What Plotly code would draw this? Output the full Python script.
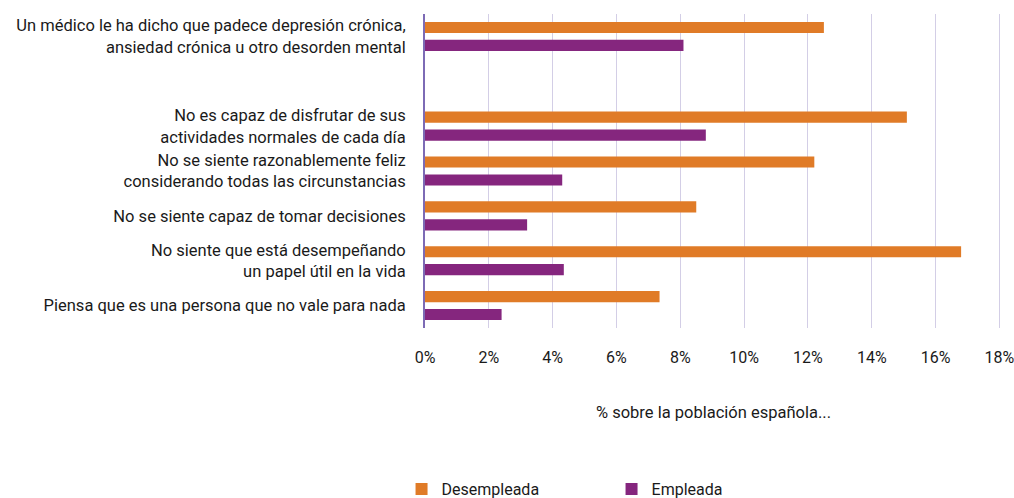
import plotly.graph_objects as go

categories = [
    "Un médico le ha dicho que padece depresión crónica,<br>ansiedad crónica u otro desorden mental",
    " ",
    "No es capaz de disfrutar de sus<br>actividades normales de cada día",
    "No se siente razonablemente feliz<br>considerando todas las circunstancias",
    "No se siente capaz de tomar decisiones",
    "No siente que está desempeñando<br>un papel útil en la vida",
    "Piensa que es una persona que no vale para nada",
]
desempleada = [12.5, None, 15.1, 12.2, 8.5, 16.8, 7.35]
empleada = [8.1, None, 8.8, 4.3, 3.2, 4.35, 2.4]
x_ticks = [0, 2, 4, 6, 8, 10, 12, 14, 16, 18]
x_ticklabels = [f"{v}%" for v in x_ticks]

ORANGE = "#E07B27"
PURPLE = "#85267E"
FONT = "Roboto"
TXT = "#1a1a1a"

fig = go.Figure()
fig.add_trace(go.Bar(y=categories, x=desempleada, orientation="h", name="Desempleada",
                     marker=dict(color=ORANGE, line=dict(width=0))))
fig.add_trace(go.Bar(y=categories, x=empleada, orientation="h", name="Empleada",
                     marker=dict(color=PURPLE, line=dict(width=0))))

fig.update_layout(
    width=1014, height=498,
    margin=dict(l=425, r=13, t=14, b=170, autoexpand=False),
    paper_bgcolor="white", plot_bgcolor="white",
    barmode="group", bargap=0.2, bargroupgap=0.38,
    font=dict(family=FONT, size=16, color=TXT),
    showlegend=True,
    legend=dict(orientation="h", xref="container", yref="container",
                x=0.396, xanchor="left", y=0.018, yanchor="middle",
                entrywidth=165, entrywidthmode="pixels", font=dict(size=16, color=TXT),
                traceorder="normal"),
    xaxis=dict(range=[0, 18.05], tickvals=x_ticks, ticktext=x_ticklabels,
               showgrid=True, gridcolor="#D3CEE6", gridwidth=1.2, zeroline=False,
               showline=False, ticks="outside", ticklen=15, tickcolor="rgba(0,0,0,0)",
               tickfont=dict(size=16), automargin=False, ticklabeloverflow="allow"),
    yaxis=dict(type="category", categoryorder="array", categoryarray=categories,
               autorange="reversed", showgrid=False, zeroline=False,
               showline=True, linecolor="#7D6BB5", linewidth=2,
               ticks="outside", ticklen=14, tickcolor="rgba(0,0,0,0)",
               tickfont=dict(size=16.5), automargin=False),
    annotations=[dict(text="% sobre la población española...", xref="paper", yref="paper",
                      x=0.5, y=-0.27, xanchor="center", yanchor="middle", showarrow=False,
                      font=dict(size=16.5, color=TXT))],
)

fig.write_html("out.html", config={"displayModeBar": False},
               post_script="document.body.style.margin='0';document.body.style.overflow='hidden';")
